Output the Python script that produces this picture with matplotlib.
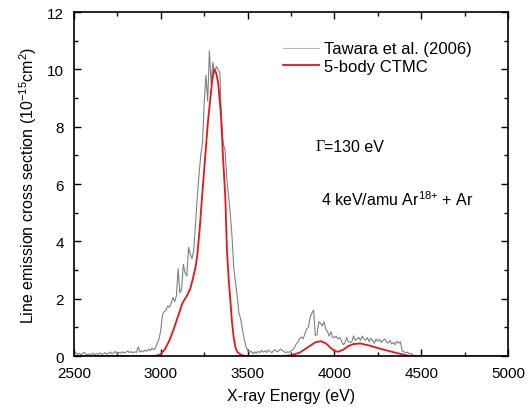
import numpy as np
import matplotlib.pyplot as plt
from matplotlib.ticker import MultipleLocator

plt.rcParams['font.family'] = ['Liberation Sans', 'DejaVu Sans']
plt.rcParams['mathtext.fontset'] = 'custom'
plt.rcParams['mathtext.rm'] = 'Liberation Sans'

# measured spectrum (Tawara et al. 2006), 10 eV bins starting at 2500 eV
tawara_start = 2500
tawara_step = 10
tawara_y = [
    0.08, 0.12, 0.06, 0.10, 0.05, 0.09, 0.13, 0.07, 0.04, 0.08,
    0.06, 0.10, 0.05, 0.09, 0.07, 0.11, 0.06, 0.08, 0.12, 0.07,
    0.10, 0.14, 0.08, 0.12, 0.16, 0.09, 0.13, 0.10, 0.15, 0.11,
    0.14, 0.18, 0.12, 0.16, 0.11, 0.15, 0.13, 0.32, 0.14, 0.19,
    0.15, 0.21, 0.17, 0.24, 0.19, 0.28, 0.22, 0.30, 0.45, 0.60,
    0.90, 1.45, 1.55, 1.60, 1.75, 1.70, 1.85, 2.05, 1.90, 2.10,
    3.05, 2.20, 2.35, 3.20, 2.90, 2.80, 3.80, 3.55, 3.40, 3.70,
    4.60, 5.50, 6.30, 7.00, 7.40, 8.80, 9.80, 8.90, 10.65, 9.50,
    10.25, 9.90, 10.10, 10.00, 9.90, 8.20, 7.40, 7.20, 6.20, 5.60,
    5.00, 4.20, 3.10, 2.60, 2.10, 1.50, 1.30, 0.95, 0.60, 0.35,
    0.20, 0.12, 0.18, 0.08, 0.15, 0.10, 0.17, 0.12, 0.20, 0.14,
    0.18, 0.13, 0.21, 0.16, 0.12, 0.19, 0.22, 0.15, 0.18, 0.25,
    0.20, 0.16, 0.12, 0.15, 0.13, 0.18, 0.22, 0.30, 0.42, 0.50,
    0.62, 0.66, 0.60, 0.77, 0.95, 1.00, 1.35, 1.50, 1.60, 0.72,
    0.75, 1.20, 1.15, 1.05, 1.20, 0.95, 0.85, 0.70, 0.85, 0.65,
    0.65, 0.70, 0.60, 0.65, 0.55, 0.40, 0.45, 0.65, 0.50, 0.48,
    0.50, 0.70, 0.55, 0.60, 0.65, 0.55, 0.70, 0.60, 0.55, 0.65,
    0.50, 0.62, 0.55, 0.45, 0.60, 0.52, 0.58, 0.48, 0.55, 0.60,
    0.50, 0.45, 0.55, 0.42, 0.48, 0.40, 0.52, 0.45, 0.50, 0.18,
    0.15, 0.12, 0.14, 0.08, 0.10, 0.05, 0.02,
]
tawara_x = tawara_start + tawara_step * np.arange(len(tawara_y))

# 5-body CTMC calculation
ctmc_x = [2500, 2950, 2980, 3000, 3025, 3050, 3075, 3100, 3125, 3150, 3170,
          3185, 3200, 3210, 3225, 3237, 3250, 3272, 3295, 3306, 3318, 3330,
          3347, 3358, 3372, 3381, 3392, 3400, 3410, 3420, 3430, 3440, 3460,
          3480, 3500, 3700, 3750, 3800, 3850, 3890, 3920, 3950, 3980, 4000,
          4020, 4050, 4080, 4110, 4150, 4200, 4250, 4300, 4350, 4400, 4430,
          4450, 5000]
ctmc_y = [0, 0, 0.02, 0.07, 0.25, 0.55, 0.95, 1.4, 1.85, 2.1, 2.35,
          2.7, 3.1, 3.5, 4.5, 5.5, 6.5, 8.2, 9.55, 10.0, 9.9, 9.55,
          8.4, 7.0, 5.5, 3.7, 2.6, 2.0, 1.2, 0.65, 0.3, 0.15, 0.05,
          0.01, 0, 0, 0.03, 0.12, 0.32, 0.48, 0.52, 0.45, 0.28, 0.18,
          0.15, 0.22, 0.35, 0.42, 0.44, 0.37, 0.28, 0.2, 0.12, 0.05, 0.01,
          0, 0]

fig = plt.figure(figsize=(5.32, 4.10), dpi=100)
ax = fig.add_axes([0.139, 0.129, 0.816, 0.839])

ax.plot(tawara_x, tawara_y, color='#808080', lw=0.8,
        label='Tawara et al. (2006)')
ax.plot(ctmc_x, ctmc_y, color='#e8141c', lw=1.3, label='5-body CTMC')

ax.set_xlim(2500, 5000)
ax.set_ylim(0, 12)
ax.xaxis.set_major_locator(MultipleLocator(500))
ax.xaxis.set_minor_locator(MultipleLocator(250))
ax.yaxis.set_major_locator(MultipleLocator(2))
ax.yaxis.set_minor_locator(MultipleLocator(1))
ax.tick_params(which='both', direction='in', top=True, right=True,
               labelsize=11, width=1, pad=7)
ax.tick_params(which='major', length=5)
ax.tick_params(which='minor', length=3)
for s in ax.spines.values():
    s.set_linewidth(1.2)

ax.set_xlabel('X-ray Energy (eV)', fontsize=11.5, labelpad=6)
ax.set_ylabel(r'Line emission cross section (10$^{\mathregular{-15}}$cm$^{\mathregular{2}}$)',
              fontsize=11.5, labelpad=6)

leg = ax.legend(loc='upper left', bbox_to_anchor=(0.481, 0.915), frameon=False,
                fontsize=12, handlelength=2.2, handletextpad=0.3,
                labelspacing=0.15, borderaxespad=0, borderpad=0)
leg.get_lines()[0].set_color('#b4b4b4')

ax.text(0.556, 0.610, u'\u0393', transform=ax.transAxes, fontsize=11.5,
        family='Liberation Serif', va='center')
ax.text(0.575, 0.610, '=130 eV', transform=ax.transAxes, fontsize=11.5,
        va='center')
ax.text(0.570, 0.457, r'4 keV/amu Ar$^{\mathregular{18{+}}}$ + Ar',
        transform=ax.transAxes, fontsize=11.5, va='center')

fig.savefig('out.png', dpi=100)
